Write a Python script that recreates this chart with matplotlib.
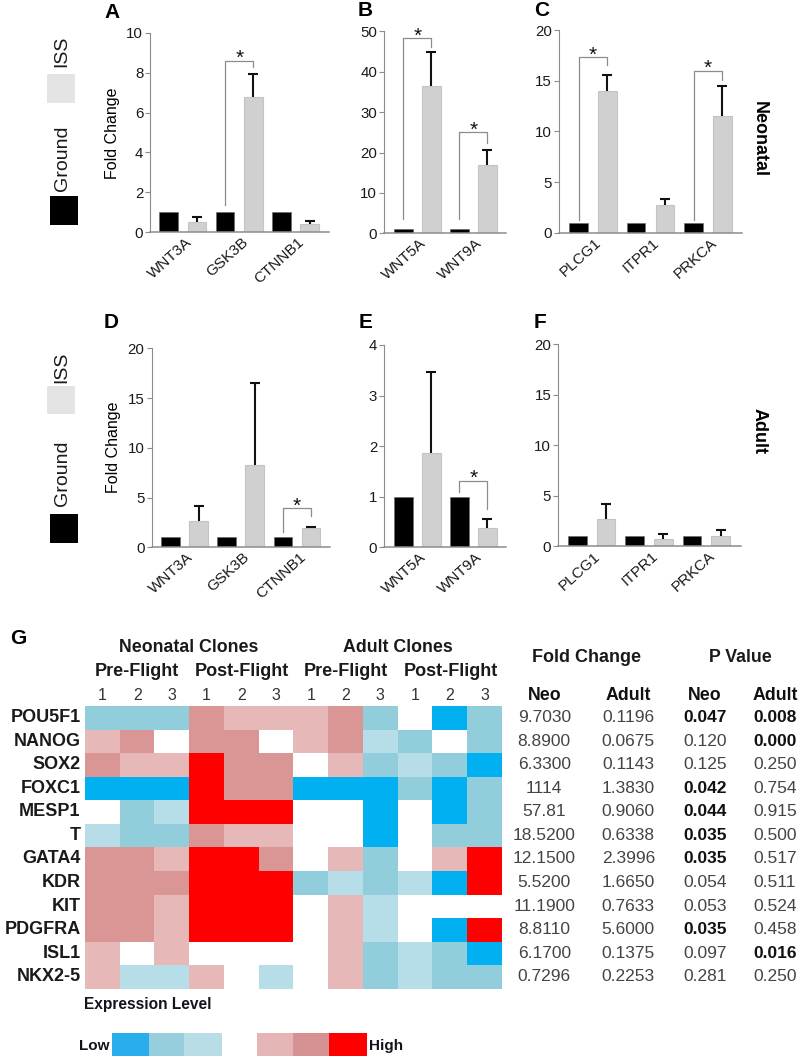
# Fold change bar panels (A-F) and expression heatmap with table (G)

import matplotlib
matplotlib.use('Agg')
import matplotlib.pyplot as plt
from matplotlib.colors import ListedColormap
from matplotlib.patches import Rectangle
import numpy as np

plt.rcParams['font.family'] = ['Liberation Sans', 'DejaVu Sans']

W, H = 800, 1058

genes_a = ['WNT3A', 'GSK3B', 'CTNNB1']
ground_a = [1, 1, 1]
iss_a = [0.5, 6.8, 0.4]
top_a = [0.73, 7.93, 0.55]

genes_b = ['WNT5A', 'WNT9A']
ground_b = [1, 1]
iss_b = [36.5, 17.0]
top_b = [44.8, 20.5]

genes_c = ['PLCG1', 'ITPR1', 'PRKCA']
ground_c = [1, 1, 1]
iss_c = [14.0, 2.7, 11.5]
top_c = [15.6, 3.3, 14.5]

iss_d = [2.6, 8.3, 1.9]
ground_d = [1, 1, 1]
top_d = [4.15, 16.5, 2.05]

iss_e = [1.87, 0.39]
ground_e = [1, 1]
top_e = [3.46, 0.56]

iss_f = [2.7, 0.75, 1.05]
ground_f = [1, 1, 1]
top_f = [4.2, 1.25, 1.65]

# bar left, bar right, left foot, top, right foot
brackets_a = [(2, 3, 1.36, 8.6, 8.3)]
brackets_b = [(0, 1, 3.5, 48.3, 46.2), (2, 3, 3.5, 25.0, 22.3)]
brackets_c = [(0, 1, 1.25, 17.3, 16.5), (4, 5, 1.25, 16.0, 15.1)]
brackets_d = [(4, 5, 1.57, 3.9, 3.15)]
brackets_e = [(2, 3, 1.09, 1.32, 0.76)]

heat_genes = ['POU5F1', 'NANOG', 'SOX2', 'FOXC1', 'MESP1', 'T',
              'GATA4', 'KDR', 'KIT', 'PDGFRA', 'ISL1', 'NKX2-5']
heat_levels = [
    [-2, -2, -2, 2, 1, 1, 1, 2, -2, 0, -3, -2],
    [1, 2, 0, 2, 2, 0, 1, 2, -1, -2, 0, -2],
    [2, 1, 1, 3, 2, 2, 0, 1, -2, -1, -2, -3],
    [-3, -3, -3, 3, 2, 2, -3, -3, -3, -2, -3, -2],
    [0, -2, -1, 3, 3, 3, 0, 0, -3, 0, -3, -2],
    [-1, -2, -2, 2, 1, 1, 0, 0, -3, 0, -2, -2],
    [2, 2, 1, 3, 3, 2, 0, 1, -2, 0, 1, 3],
    [2, 2, 2, 3, 3, 3, -2, -1, -2, -1, -3, 3],
    [2, 2, 1, 3, 3, 3, 0, 1, -1, 0, 0, 0],
    [2, 2, 1, 3, 3, 3, 0, 1, -1, 0, -3, 3],
    [1, 0, 1, 0, 0, 0, 0, 1, -2, -1, -2, -3],
    [1, -1, -1, 1, 0, -1, 0, 1, -2, -1, -2, -2],
]
heat_colors = ['#00b0f0', '#92cddc', '#b7dee8', '#ffffff', '#e6b8b7', '#da9694', '#ff0000']
legend_colors = ['#29aeeb', '#96cede', '#b8dde7', '#e5b5b5', '#d69292', '#ff0000']

fc_neo = ['9.7030', '8.8900', '6.3300', '1114', '57.81', '18.5200',
          '12.1500', '5.5200', '11.1900', '8.8110', '6.1700', '0.7296']
fc_adult = ['0.1196', '0.0675', '0.1143', '1.3830', '0.9060', '0.6338',
            '2.3996', '1.6650', '0.7633', '5.6000', '0.1375', '0.2253']
p_neo = ['0.047', '0.120', '0.125', '0.042', '0.044', '0.035',
         '0.035', '0.054', '0.053', '0.035', '0.097', '0.281']
p_adult = ['0.008', '0.000', '0.250', '0.754', '0.915', '0.500',
           '0.517', '0.511', '0.524', '0.458', '0.016', '0.250']
p_neo_bold = [True, False, False, True, True, True, True, False, False, True, False, False]
p_adult_bold = [True, True, False, False, False, False, False, False, False, False, True, False]

fig = plt.figure(figsize=(W / 100, H / 100), dpi=100)


def fx(x):
    return x / W


def fy(y):
    return 1 - y / H


def put_text(x, y, s, size=12.5, bold=False, color='black', ha='center', rotation=0):
    fig.text(fx(x), fy(y), s, fontsize=size, color=color, ha=ha, va='center',
             fontweight='bold' if bold else 'normal', rotation=rotation)


def put_box(x0, y0, x1, y1, color):
    fig.add_artist(Rectangle((fx(x0), fy(y1)), (x1 - x0) / W, (y1 - y0) / H,
                             transform=fig.transFigure, color=color, lw=0))


def draw_panel(left, right, y_zero, y_top, first, pitch, ymax, yticks, genes,
               ground, iss, top, brackets=()):
    ax = fig.add_axes([fx(left), fy(y_zero), (right - left) / W, (y_zero - y_top) / H])
    ax.patch.set_alpha(0)
    ax.set_xlim((left - first) / pitch, (right - first) / pitch)
    ax.set_ylim(0, ymax)

    pos = np.arange(len(genes) * 2)
    bar_w = 18.8 / pitch
    ax.bar(pos[::2], ground, width=bar_w, color='black', edgecolor='#666666', linewidth=0.4)
    ax.bar(pos[1::2], iss, width=bar_w, color='#d0d0d0', edgecolor='#c4c4c4', linewidth=0.8)
    ax.vlines(pos[1::2], iss, top, color='#111111', linewidth=1.5)
    ax.plot(pos[1::2], top, linestyle='none', marker='_', markersize=7.5,
            markeredgewidth=1.5, color='#111111')

    for a, b, foot_l, y, foot_r in brackets:
        ax.plot([a, a, b, b], [foot_l, y, y, foot_r], color='#8c8c8c', linewidth=0.9)
        ax.annotate('*', xy=((a + b) / 2, y), xytext=(0, 1.5), textcoords='offset points',
                    fontsize=15, ha='center', va='center', color='#111111')

    for side in ['top', 'right']:
        ax.spines[side].set_visible(False)
    ax.spines['left'].set_color('#8c8c8c')
    ax.spines['bottom'].set_color('#8c8c8c')
    ax.spines['bottom'].set_linewidth(1.1)
    ax.set_yticks(yticks)
    ax.tick_params(axis='y', length=3.6, width=0.8, color='#8c8c8c', labelsize=10.8,
                   pad=1.5, labelcolor='#1a1a1a')
    ax.set_xticks(pos[::2] + 0.5 + 2 / pitch)
    ax.set_xticklabels(genes, rotation=42, ha='right', rotation_mode='anchor',
                       fontsize=11, color='#1a1a1a')
    ax.tick_params(axis='x', length=0, pad=2)
    return ax


draw_panel(150.3, 329, 232, 33, 168.7, 28.2, 10, [0, 2, 4, 6, 8, 10],
           genes_a, ground_a, iss_a, top_a, brackets_a)
draw_panel(384.3, 506, 233.3, 31.3, 403.2, 28.0, 50, [0, 10, 20, 30, 40, 50],
           genes_b, ground_b, iss_b, top_b, brackets_b)
draw_panel(559, 741.7, 232.7, 30, 578.5, 28.8, 20, [0, 5, 10, 15, 20],
           genes_c, ground_c, iss_c, top_c, brackets_c)
draw_panel(151.7, 330.3, 547.3, 348.3, 170.5, 28.1, 20, [0, 5, 10, 15, 20],
           genes_a, ground_d, iss_d, top_d, brackets_d)
draw_panel(384.3, 506, 547.3, 345, 403.2, 28.0, 4, [0, 1, 2, 3, 4],
           genes_b, ground_e, iss_e, top_e, brackets_e)
draw_panel(558.3, 740.7, 546.3, 344, 577.2, 28.7, 20, [0, 5, 10, 15, 20],
           genes_c, ground_f, iss_f, top_f)

# panel letters
for letter, x, y in [('A', 112, 12), ('B', 365, 11), ('C', 541.5, 11),
                     ('D', 111, 322), ('E', 365.5, 322), ('F', 540, 322), ('G', 18, 639)]:
    put_text(x, y, letter, size=15, bold=True)

put_text(112, 133, 'Fold Change', size=11.5, rotation=90)
put_text(114, 447.5, 'Fold Change', size=11.5, rotation=90)
put_text(759, 139, 'Neonatal', size=13, bold=True, rotation=270)
put_text(759, 431, 'Adult', size=13, bold=True, rotation=270)

# Ground / ISS key, drawn twice
for iss_mid, iss_box, ground_mid, ground_box in [(51.5, 74, 158, 196.3),
                                                 (367.5, 385.7, 473, 514.3)]:
    put_text(62, iss_mid, 'ISS', size=14, rotation=90, color='#1a1a1a')
    put_box(46.7, iss_box, 75.3, iss_box + 28.6, '#e4e4e4')
    put_text(62, ground_mid, 'Ground', size=14, rotation=90, color='#1a1a1a')
    put_box(49.7, ground_box, 78.3, ground_box + 29, 'black')

# heatmap
heat_left, heat_right, heat_top, heat_bottom = 85, 502, 705.7, 988.7
ax_heat = fig.add_axes([fx(heat_left), fy(heat_bottom), (heat_right - heat_left) / W,
                        (heat_bottom - heat_top) / H])
ax_heat.imshow(np.array(heat_levels), cmap=ListedColormap(heat_colors), vmin=-3.5, vmax=3.5,
               aspect='auto', interpolation='nearest')
ax_heat.axis('off')

cell_w = (heat_right - heat_left) / 12
cell_h = (heat_bottom - heat_top) / 12
row_y = [heat_top + cell_h * (i + 0.5) for i in range(12)]

put_text(189, 647, 'Neonatal Clones', size=12.8, bold=True, color='#1a1a1a')
put_text(397.5, 647, 'Adult Clones', size=12.8, bold=True, color='#1a1a1a')
for x, s in [(137.3, 'Pre-Flight'), (242, 'Post-Flight'), (345.7, 'Pre-Flight'), (450.7, 'Post-Flight')]:
    put_text(x, 671, s, size=13, bold=True, color='#1a1a1a')
for col in range(12):
    put_text(heat_left + cell_w * (col + 0.5), 696, str(col % 3 + 1), size=11.5, color='#333333')

for gene, y in zip(heat_genes, row_y):
    put_text(80.7, y, gene, size=13, bold=True, ha='right', color='#1a1a1a')

# table on the right
put_text(586.7, 658, 'Fold Change', size=13, bold=True, color='#1a1a1a')
put_text(740, 658, 'P Value', size=12.8, bold=True, color='#1a1a1a')
for x, s in [(544.3, 'Neo'), (628.3, 'Adult'), (705, 'Neo'), (775, 'Adult')]:
    put_text(x, 696, s, size=12.8, bold=True, color='#111111')

for i, y in enumerate(row_y):
    put_text(544.3, y, fc_neo[i], color='#444444')
    put_text(628.3, y, fc_adult[i], color='#444444')
    put_text(705, y, p_neo[i], bold=p_neo_bold[i], color='#111111' if p_neo_bold[i] else '#444444')
    put_text(775, y, p_adult[i], bold=p_adult_bold[i], color='#111111' if p_adult_bold[i] else '#444444')

# colour key
put_text(84, 1004, 'Expression Level', size=11.2, bold=True, ha='left', color='#14141e')
put_text(109.5, 1046, 'Low', size=11, bold=True, ha='right', color='#14141e')
put_text(369.5, 1046, 'High', size=11, bold=True, ha='left', color='#14141e')
key_edges = [(112.3, 149), (149, 184.3), (184.3, 221.7), (257.3, 293.3), (293.3, 329), (329, 366.7)]
for (x0, x1), c in zip(key_edges, legend_colors):
    put_box(x0, 1033.3, x1, 1056, c)

fig.savefig('out.png', dpi=100)
